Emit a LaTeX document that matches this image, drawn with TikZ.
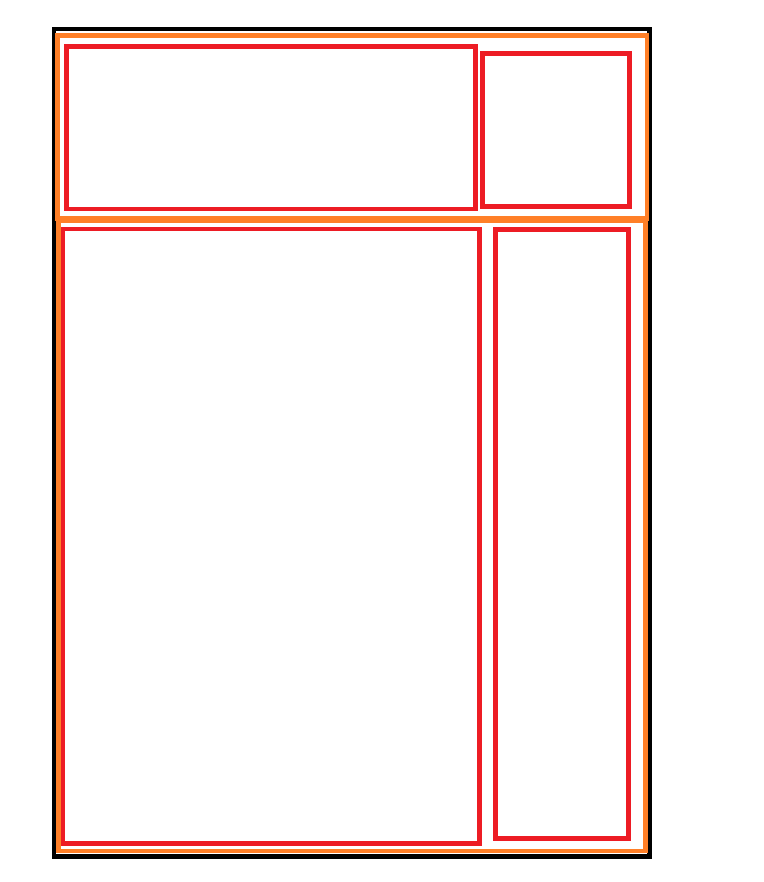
\documentclass[tikz,border=0pt]{standalone}
\usepackage{xcolor}
\usepackage{tikz}
\usetikzlibrary{positioning}

\definecolor{paintred}{HTML}{ED1C24}
\definecolor{paintorange}{HTML}{FF7F27}

\begin{document}
\begin{tikzpicture}[
  x=1pt, y=-1pt,
  box/.style={rectangle, draw, anchor=north west, inner sep=0pt, outer sep=0pt,
              line width=4.6pt},
  pagebox/.style={box, draw=black},
  areabox/.style={box, draw=paintorange},
  partbox/.style={box, draw=paintred},
]
  \useasboundingbox (0,0) rectangle (763,882);

  % outer page
  \node[pagebox, minimum width=595.5pt, minimum height=827.5pt] (page) at (54,29) {};

  % header and body areas
  \node[areabox, minimum width=589.5pt, minimum height=183pt] (header) at (57.5,35.3) {};
  \node[areabox, minimum width=587.2pt, minimum height=630.5pt] (body) at (58.3,220.6) {};

  % parts
  \node[partbox, minimum width=409.2pt, minimum height=162.7pt] (title) at (66.3,46.3) {};
  \node[partbox, minimum width=147.4pt, minimum height=152.6pt] (logo) at (482.3,53.7) {};
  \node[partbox, minimum width=416.5pt, minimum height=614.3pt] (content) at (63,229) {};
  \node[partbox, minimum width=132.7pt, minimum height=609.2pt] (sidebar) at (495.5,229.3) {};
\end{tikzpicture}
\end{document}
